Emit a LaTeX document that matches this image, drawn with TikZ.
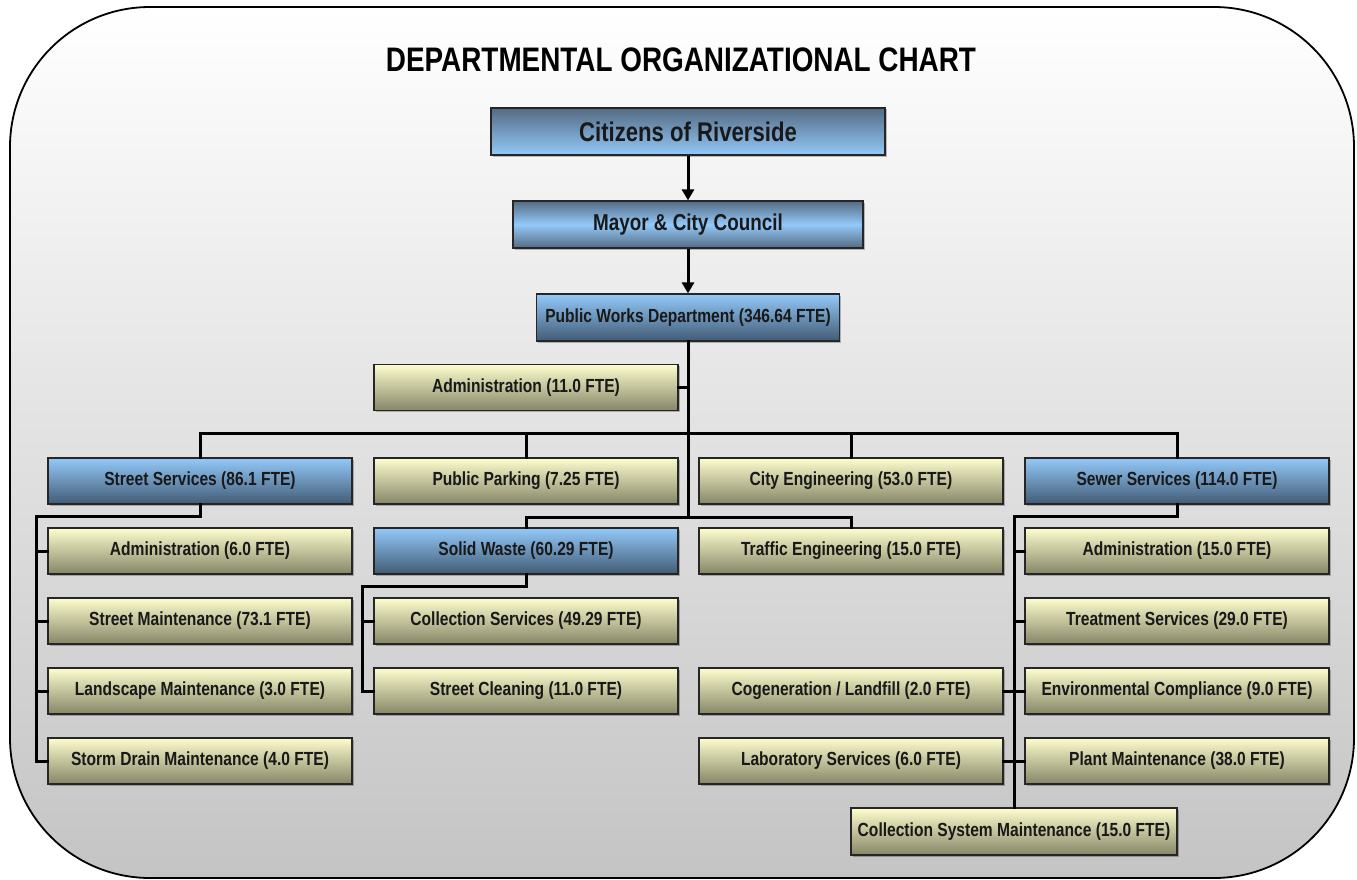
\documentclass[tikz,border=0pt]{standalone}
\usepackage{fontspec}
\setmainfont[FakeStretch=0.82]{Liberation Sans}
\usetikzlibrary{arrows.meta,shadows}
\definecolor{bluelight}{RGB}{147,201,249}
\definecolor{bluedark}{RGB}{66,91,117}
\definecolor{yellight}{RGB}{253,253,206}
\definecolor{yeldark}{RGB}{134,134,104}
\definecolor{panelgray}{RGB}{196,196,196}
\begin{document}
\begin{tikzpicture}[x=1pt,y=-1pt,
  box/.style={draw=black!85, line width=1.2pt, inner sep=0pt, minimum height=46pt, minimum width=304pt,
    font=\fontsize{19}{22}\selectfont\bfseries, text=black!90,
    drop shadow={shadow xshift=1.5pt,shadow yshift=-1.5pt,fill=black,opacity=0.25}},
  ybox/.style={box, top color=yellight, bottom color=yeldark},
  bbox/.style={box, top color=bluelight, bottom color=bluedark},
  conn/.style={line width=3pt, line cap=rect, line join=miter},
  arr/.style={line width=3pt, -{Triangle[width=12pt,length=11pt]}}
]
\useasboundingbox (0,0) rectangle (1357,880);
% background panel
\draw[line width=1.8pt, rounded corners=140pt, top color=white, bottom color=panelgray]
  (10,7) rectangle (1354,878);
\node[font=\fontsize{34}{38}\selectfont\bfseries] (title) at (681,60) {DEPARTMENTAL ORGANIZATIONAL CHART};

% top chain
\node[box, minimum width=394pt, minimum height=47pt, font=\fontsize{27}{30}\selectfont\bfseries,
  top color=bluedark!90!white, bottom color=bluelight] (cit) at (688,131.5) {Citizens of Riverside};
\node[box, minimum width=350pt, minimum height=47pt, font=\fontsize{23}{26}\selectfont\bfseries,
  top color=bluedark!90!white, bottom color=bluedark!90!white, middle color=bluelight] (may) at (688,224.5) {Mayor \& City Council};
\node[bbox, minimum width=303pt, minimum height=47pt] (pw) at (688,317.5) {Public Works Department (346.64 FTE)};
\node[ybox] (adm) at (526,387.5) {Administration (11.0 FTE)};

% row 1
\node[bbox] (ss)  at (200,481) {Street Services (86.1 FTE)};
\node[ybox] (pp)  at (526,481) {Public Parking (7.25 FTE)};
\node[ybox] (ce)  at (851,481) {City Engineering (53.0 FTE)};
\node[bbox] (sew) at (1177,481) {Sewer Services (114.0 FTE)};
% row 2
\node[ybox] (sadm) at (200,551) {Administration (6.0 FTE)};
\node[bbox] (sw)   at (526,551) {Solid Waste (60.29 FTE)};
\node[ybox] (te)   at (851,551) {Traffic Engineering (15.0 FTE)};
\node[ybox] (wadm) at (1177,551) {Administration (15.0 FTE)};
% row 3
\node[ybox] (sm)  at (200,621) {Street Maintenance (73.1 FTE)};
\node[ybox] (cs)  at (526,621) {Collection Services (49.29 FTE)};
\node[ybox] (ts)  at (1177,621) {Treatment Services (29.0 FTE)};
% row 4
\node[ybox] (lm)  at (200,691) {Landscape Maintenance (3.0 FTE)};
\node[ybox] (sc)  at (526,691) {Street Cleaning (11.0 FTE)};
\node[ybox] (cg)  at (851,691) {Cogeneration / Landfill (2.0 FTE)};
\node[ybox] (ec)  at (1177,691) {Environmental Compliance (9.0 FTE)};
% row 5
\node[ybox] (sdm) at (200,761) {Storm Drain Maintenance (4.0 FTE)};
\node[ybox] (ls)  at (851,761) {Laboratory Services (6.0 FTE)};
\node[ybox] (pm)  at (1177,761) {Plant Maintenance (38.0 FTE)};
% row 6
\node[ybox, minimum width=326pt, minimum height=47pt] (csm) at (1014,831.5) {Collection System Maintenance (15.0 FTE)};

% junction coordinates
\coordinate (j1) at (688,433);
\coordinate (j2) at (688,517);
\coordinate (sl) at (36,516);
\coordinate (wl) at (362,586);
\coordinate (el) at (1014,516);

% connectors
\draw[arr] (cit) -- (may);
\draw[arr] (may) -- (pw);
\draw[conn] (pw.south) -- (j2);
\draw[conn] (adm.east) -- (adm.east -| j1);
\draw[conn] (ss.north) |- (sew.north |- j1) -- (sew.north);
\draw[conn] (pp.north) -- (pp.north |- j1);
\draw[conn] (ce.north) -- (ce.north |- j1);
\draw[conn] (sw.north) |- (te.north |- j2) -- (te.north);
% street services
\draw[conn] (ss.south) |- (sl) |- (sdm.west);
\draw[conn] (sadm.west) -- (sadm.west -| sl);
\draw[conn] (sm.west) -- (sm.west -| sl);
\draw[conn] (lm.west) -- (lm.west -| sl);
% solid waste
\draw[conn] (sw.south) |- (wl) |- (sc.west);
\draw[conn] (cs.west) -- (cs.west -| wl);
% sewer
\draw[conn] (sew.south) |- (el) -- (csm.north);
\draw[conn] (wadm.west) -- (wadm.west -| el);
\draw[conn] (ts.west) -- (ts.west -| el);
\draw[conn] (cg.east) -- (ec.west);
\draw[conn] (ls.east) -- (pm.west);
\end{tikzpicture}
\end{document}
